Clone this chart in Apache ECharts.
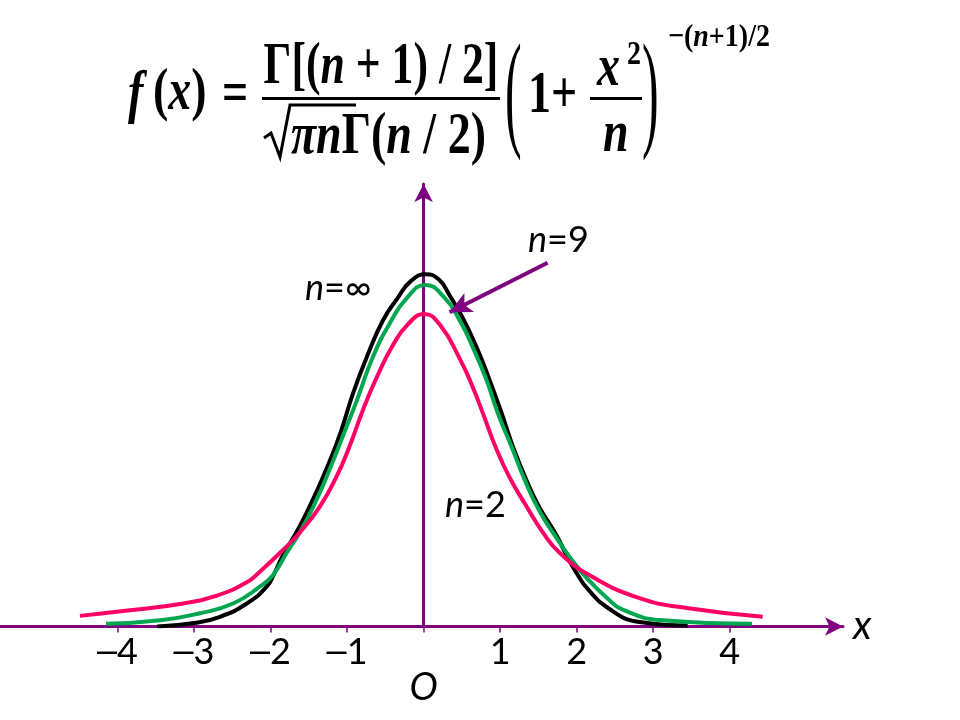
<!DOCTYPE html>
<html>
<head>
<meta charset="utf-8">
<script src="https://cdn.jsdelivr.net/npm/echarts@6/dist/echarts.min.js"></script>
<style>html,body{margin:0;padding:0;background:#fff}#c{width:960px;height:720px}</style>
</head>
<body>
<div id="c"></div>
<script>
// x tick values & labels
const xTicks = [-4, -3, -2, -1, 0, 1, 2, 3, 4];
const xTickLabels = ['\u20134', '\u20133', '\u20132', '\u20131', 'O', '1', '2', '3', '4'];

// n = ∞ (normal) curve: [x, f(x)]
const curveInf = [
  [-3.48,0.000],[-3.00,0.004],[-2.66,0.011],[-2.31,0.026],[-2.05,0.045],[-1.95,0.060],
  [-1.84,0.080],[-1.62,0.113],[-1.45,0.143],[-1.26,0.180],[-1.09,0.218],[-0.92,0.264],
  [-0.74,0.305],[-0.53,0.346],[-0.34,0.371],[-0.17,0.390],[0.03,0.398],[0.20,0.392],
  [0.34,0.374],[0.51,0.349],[0.69,0.316],[0.83,0.286],[1.02,0.241],[1.16,0.205],
  [1.34,0.166],[1.51,0.135],[1.73,0.104],[1.90,0.075],[2.03,0.056],[2.13,0.044],
  [2.39,0.022],[2.82,0.005],[3.45,0.001]
];
// n = 9 curve
const curve9 = [
  [-4.15,0.003],[-3.44,0.007],[-2.92,0.015],[-2.49,0.026],[-2.14,0.045],[-1.97,0.058],
  [-1.79,0.083],[-1.60,0.109],[-1.40,0.143],[-1.23,0.177],[-1.06,0.214],[-0.87,0.256],
  [-0.66,0.305],[-0.44,0.343],[-0.22,0.371],[0.02,0.386],[0.27,0.372],[0.47,0.346],
  [0.64,0.316],[0.82,0.279],[0.97,0.241],[1.15,0.203],[1.32,0.166],[1.51,0.131],
  [1.73,0.101],[1.94,0.075],[2.16,0.052],[2.40,0.032],[2.60,0.019],[3.12,0.007],
  [4.29,0.003]
];
// n = 2 curve
const curve2 = [
  [-4.49,0.012],[-3.87,0.018],[-3.14,0.026],[-2.70,0.035],[-2.31,0.050],[-2.14,0.062],
  [-1.88,0.083],[-1.62,0.106],[-1.36,0.135],[-1.14,0.169],[-0.97,0.203],[-0.80,0.243],
  [-0.61,0.282],[-0.40,0.318],[-0.20,0.342],[0.01,0.353],[0.22,0.340],[0.47,0.303],
  [0.64,0.271],[0.80,0.235],[0.93,0.205],[1.12,0.169],[1.35,0.135],[1.56,0.106],
  [1.78,0.083],[2.17,0.058],[2.82,0.032],[3.44,0.021],[4.43,0.011]
];
// pointer arrow for the n=9 label: [start, end]
const pointerArrow = [[1.62, 0.411], [0.34, 0.355]];

const PURPLE = '#7F0080';
const SERIF = '"Liberation Serif", "Times New Roman", serif';
const SANS = 'Lato, "Open Sans", sans-serif';
const SY = 1.3; // vertical stretch of the formula glyphs

const chart = echarts.init(document.getElementById('c'), null, {renderer: 'canvas'});

function txt(x, y, text, rich, extra, el) {
  return Object.assign({
    type: 'text', x: x, y: y,
    style: Object.assign({
      text: text, x: 0, y: 0, fill: '#000',
      font: 'bold 46px ' + SERIF,
      align: 'left', verticalAlign: 'middle',
      textAlign: 'left', textVerticalAlign: 'middle',
      rich: rich || {}
    }, extra || {})
  }, el || {});
}
const R = {
  i: {fontFamily: SERIF, fontSize: 46, fontWeight: 'bold', fontStyle: 'italic'},
  r: {fontFamily: SERIF, fontSize: 46, fontWeight: 'bold'}
};
const Rs = {
  i: {fontFamily: SERIF, fontSize: 28, fontWeight: 'bold', fontStyle: 'italic'},
  r: {fontFamily: SERIF, fontSize: 28, fontWeight: 'bold'}
};
const Rl = {
  i: {fontFamily: SANS, fontSize: 36, fontStyle: 'italic'},
  r: {fontFamily: SANS, fontSize: 36}
};
const st = {scaleY: SY};

const graphics = [
  // f(x) =
  txt(128, 96, '{i|f}', R, null, st),
  txt(153, 94, '{r|(}{i|x}{r|)}', R, null, st),
  txt(222, 96, '{r|=}', R, null, st),
  // numerator
  txt(381, 68, '{r|Γ[(}{i|n}{r| + 1) / 2]}', R, {align: 'center', textAlign: 'center'}, {scaleX: 0.95, scaleY: SY}),
  // main fraction bar
  {type: 'rect', shape: {x: 262, y: 97, width: 238, height: 3}, style: {fill: '#000'}},
  // radical sign with overline
  {type: 'polyline', shape: {points: [[264, 138], [271, 133], [280, 157], [290, 105], [356, 105]]},
    style: {stroke: '#000', lineWidth: 3, fill: null}},
  // denominator
  txt(291, 138, '{i|πn}{r|Γ(}{i|n}{r| / 2)}', R, null, st),
  // big parens
  txt(505, 99, '(', null, {font: '50px ' + SERIF}, {scaleY: 2.6}),
  txt(642, 99, ')', null, {font: '50px ' + SERIF}, {scaleY: 2.6}),
  // 1 +
  txt(528, 97, '{r|1+}', R, null, st),
  // x^2 over n
  txt(597, 70, '{i|x}', R, null, st),
  txt(627, 55, '{r|2}', Rs, null, {scaleY: 1.2}),
  {type: 'rect', shape: {x: 590, y: 97, width: 52, height: 3}, style: {fill: '#000'}},
  txt(603, 136, '{i|n}', R, null, st),
  // exponent
  txt(668, 38, '{r|−(}{i|n}{r|+1)/2}', Rs, null, {scaleY: 1.15}),
  // curve labels
  txt(305, 288, '{i|n}{r|=∞}', Rl),
  txt(528, 240, '{i|n}{r|=9}', Rl),
  txt(445, 505, '{i|n}{r|=2}', Rl)
];

function lineSeries(name, data, color) {
  return {
    name: name, type: 'line', data: data, showSymbol: false, smooth: 0.5,
    lineStyle: {color: color, width: 4}, itemStyle: {color: color},
    z: 3, silent: true
  };
}

const s9 = lineSeries('n=9', curve9, '#00A650');
s9.markLine = {
  silent: true, animation: false,
  symbol: ['none', 'arrow'], symbolSize: [16, 22],
  lineStyle: {color: PURPLE, width: 4, type: 'solid'},
  label: {show: false},
  data: [[{coord: pointerArrow[0]}, {coord: pointerArrow[1]}]]
};

chart.setOption({
  animation: false,
  backgroundColor: '#fff',
  grid: {left: 0, right: 117, top: 184, bottom: 93.5, containLabel: false},
  xAxis: {
    type: 'value', min: -5.535, max: 5.48,
    name: 'x', nameLocation: 'end', nameGap: 10,
    nameTextStyle: {fontFamily: SANS, fontStyle: 'italic', fontSize: 40, color: '#000', verticalAlign: 'middle'},
    axisLine: {show: true, onZero: true, symbol: ['none', 'arrow'], symbolSize: [14, 18],
      lineStyle: {color: PURPLE, width: 3}},
    axisTick: {show: true, inside: false, length: 6, customValues: xTicks,
      lineStyle: {color: PURPLE, width: 1.5}},
    axisLabel: {
      show: true, margin: 8, customValues: xTicks,
      fontFamily: SANS, fontSize: 36, color: '#000', lineHeight: 36,
      formatter: function (v) {
        const idx = xTicks.indexOf(Math.round(v));
        const t = idx >= 0 ? xTickLabels[idx] : '';
        if (t === 'O') return '\n{o|O}';
        if (t.charAt(0) === '\u2013') return '{m|\u2013}' + t.slice(1);
        return t;
      },
      rich: {
        o: {fontFamily: SANS, fontSize: 38, fontStyle: 'italic', color: '#000', lineHeight: 34},
        m: {fontFamily: '"Liberation Sans", sans-serif', fontSize: 36, color: '#000', lineHeight: 36}
      }
    },
    splitLine: {show: false}
  },
  yAxis: {
    type: 'value', min: 0, max: 0.5,
    axisLine: {show: true, onZero: true, symbol: ['none', 'arrow'], symbolSize: [14, 18],
      lineStyle: {color: PURPLE, width: 3}},
    axisTick: {show: false}, axisLabel: {show: false}, splitLine: {show: false}
  },
  series: [
    lineSeries('n=∞', curveInf, '#000000'),
    s9,
    lineSeries('n=2', curve2, '#FF0066')
  ],
  graphic: graphics
});
</script>
</body>
</html>
